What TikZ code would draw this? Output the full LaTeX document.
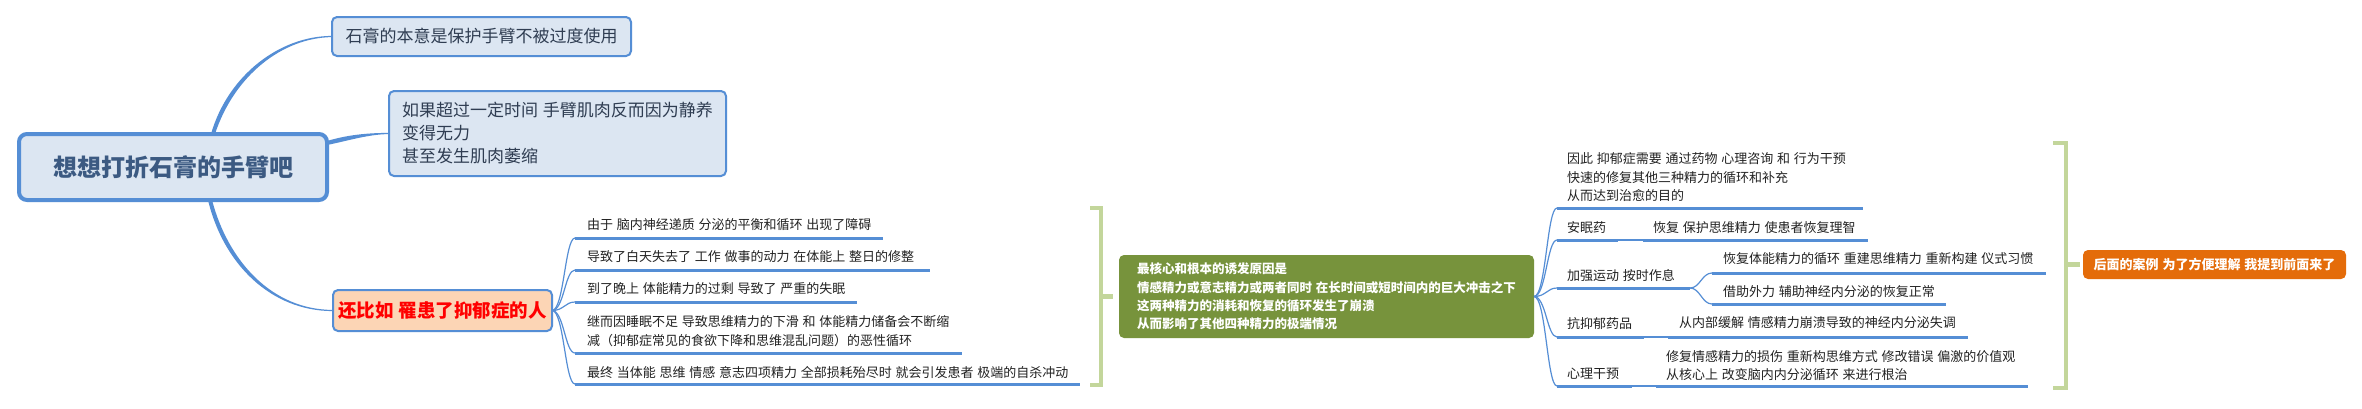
\documentclass[tikz,border=0pt]{standalone}
\usepackage{fontspec}
\setmainfont{Noto Sans CJK SC}[WordSpace=1.3]
\usetikzlibrary{calc,backgrounds}
\definecolor{lineblue}{HTML}{558ED5}
\definecolor{boxfill}{HTML}{DCE6F2}
\definecolor{maintxt}{HTML}{3C5A82}
\definecolor{toptxt}{HTML}{2F3D52}
\definecolor{peachfill}{HTML}{FCD5B5}
\definecolor{olivebg}{HTML}{77933C}
\definecolor{orangebg}{HTML}{E46C0A}
\definecolor{bracegreen}{HTML}{C3D69B}
\definecolor{subtxt}{HTML}{222222}
\begin{document}
\begin{tikzpicture}[x=1pt,y=-1pt,
  every node/.style={inner sep=0pt, outer sep=0pt},
  mainbox/.style={draw=lineblue, line width=4pt, fill=boxfill, rounded corners=8pt,
    minimum width=308pt, minimum height=66pt,
    font=\fontsize{24}{28}\selectfont\bfseries, text=maintxt},
  topicbox/.style={draw=lineblue, line width=2pt, fill=boxfill, rounded corners=5pt,
    font=\fontsize{17}{23}\selectfont, text=toptxt, align=left},
  peachbox/.style={draw=lineblue, line width=2pt, fill=peachfill, rounded corners=5pt,
    minimum width=219pt, minimum height=41pt,
    font=\fontsize{18.5}{22}\selectfont\bfseries, text=red},
  greenbox/.style={fill=olivebg, rounded corners=5pt, minimum width=415pt, minimum height=83pt,
    font=\fontsize{12.5}{18.3}\selectfont\bfseries, text=white, align=left},
  orangebox/.style={fill=orangebg, rounded corners=5pt, minimum width=263pt, minimum height=29pt,
    font=\fontsize{13}{16}\selectfont\bfseries, text=white},
  sub/.style={anchor=north west, font=\fontsize{13}{18.4}\selectfont, text=subtxt, align=left},
  uline/.style={draw=lineblue, line width=3pt},
  thinline/.style={draw=lineblue, line width=1.2pt},
  taper/.style={fill=lineblue},
  bracket/.style={draw=bracegreen, line width=4.5pt}
]
\useasboundingbox (0,0) rectangle (2362,408);

% ---- boxes
\node[mainbox] (main) at (173,167) {想想打折石膏的手臂吧};
\node[topicbox, minimum width=299pt, minimum height=39pt] (top1) at (481.5,36.5) {石膏的本意是保护手臂不被过度使用};
\node[topicbox, minimum width=337pt, minimum height=85pt] (top2) at (557.5,133.5) {如果超过一定时间 手臂肌肉反而因为静养\\变得无力\\甚至发生肌肉萎缩};
\node[peachbox] (peach) at (442.5,310.5) {还比如 罹患了抑郁症的人};
\node[greenbox] (core) at (1326.5,296.5) {最核心和根本的诱发原因是\\情感精力或意志精力或两者同时 在长时间或短时间内的巨大冲击之下\\这两种精力的消耗和恢复的循环发生了崩溃\\从而影响了其他四种精力的极端情况};
\node[orangebox] (note) at (2214.5,264.5) {后面的案例 为了方便理解 我提到前面来了};

% ---- left-middle branches
\node[sub] (ta) at (587,219) {由于 脑内神经递质 分泌的平衡和循环 出现了障碍};
\coordinate (ua1) at (575,238); \coordinate (ua2) at (883,238);
\node[sub] (tb) at (587,251) {导致了白天失去了 工作 做事的动力 在体能上 整日的修整};
\coordinate (ub1) at (575,270); \coordinate (ub2) at (930,270);
\node[sub] (tc) at (587,283) {到了晚上 体能精力的过剩 导致了 严重的失眠};
\coordinate (uc1) at (575,302); \coordinate (uc2) at (857,302);
\node[sub] (td) at (587,316) {继而因睡眠不足 导致思维精力的下滑 和 体能精力储备会不断缩\\减（抑郁症常见的食欲下降和思维混乱问题）的恶性循环};
\coordinate (ud1) at (575,353); \coordinate (ud2) at (962,353);
\node[sub] (te) at (587,366) {最终 当体能 思维 情感 意志四项精力 全部损耗殆尽时 就会引发患者 极端的自杀冲动};
\coordinate (ue1) at (575,384); \coordinate (ue2) at (1080,384);
\foreach \k in {a,b,c,d,e} {\draw[uline] (u\k1) -- (u\k2);}

% ---- right branches
\node[sub] (r1) at (1567,153) {因此 抑郁症需要 通过药物 心理咨询 和 行为干预\\快速的修复其他三种精力的循环和补充\\从而达到治愈的目的};
\coordinate (ur11) at (1557,208); \coordinate (ur12) at (1863,208);
\node[sub] (r2) at (1567,222) {安眠药};
\coordinate (ur21) at (1557,240); \coordinate (ur22) at (1618,240);
\node[sub] (r2c) at (1653,222) {恢复 保护思维精力 使患者恢复理智};
\coordinate (uc21) at (1643,240); \coordinate (uc22) at (1868,240);
\node[sub] (r3) at (1567,269) {加强运动 按时作息};
\coordinate (ur31) at (1557,288); \coordinate (ur32) at (1690,288);
\node[sub] (r3a) at (1723,253) {恢复体能精力的循环 重建思维精力 重新构建 仪式习惯};
\coordinate (uc31) at (1712,273); \coordinate (uc32) at (2046,273);
\node[sub] (r3b) at (1723,286) {借助外力 辅助神经内分泌的恢复正常};
\coordinate (uc41) at (1712,304); \coordinate (uc42) at (1946,304);
\node[sub] (r4) at (1567,317) {抗抑郁药品};
\coordinate (ur41) at (1557,337); \coordinate (ur42) at (1644,337);
\node[sub] (r4c) at (1679,317) {从内部缓解 情感精力崩溃导致的神经内分泌失调};
\coordinate (uc51) at (1668,337); \coordinate (uc52) at (1968,337);
\node[sub] (r5) at (1567,368) {心理干预};
\coordinate (ur51) at (1557,386); \coordinate (ur52) at (1632,386);
\node[sub] (r5c) at (1666,350) {修复情感精力的损伤 重新构思维方式 修改错误 偏激的价值观\\从核心上 改变脑内内分泌循环 来进行根治};
\coordinate (uc61) at (1656,386); \coordinate (uc62) at (2028,386);
\foreach \k in {1,2,3,4,5} {\draw[uline] (ur\k1) -- (ur\k2);}
\foreach \k in {2,3,4,5,6} {\draw[uline] (uc\k1) -- (uc\k2);}

% ---- thin connectors
\foreach \k in {a,b,c,d,e} {
  \draw[thinline] (peach.east) .. controls +(12,0) and +(-10,0) .. (u\k1);}
\foreach \k in {1,2,3,4,5} {
  \draw[thinline] (core.east) .. controls +(12,0) and +(-10,0) .. (ur\k1);}
\draw[thinline] (ur32) .. controls +(10,0) and +(-10,0) .. (uc31);
\draw[thinline] (ur32) .. controls +(10,0) and +(-10,0) .. (uc41);
\draw[thinline] (ur22) -- (uc21);
\draw[thinline] (ur42) -- (uc51);
\draw[thinline] (ur52) -- (uc61);

% ---- brackets
\draw[bracket] (1090,208) -- (1101,208) -- (1101,385) -- (1090,385);
\draw[bracket] (1101,296.5) -- ($(core.west)+(-6,0)$);
\draw[bracket] (2053,143) -- (2066,143) -- (2066,388) -- (2053,388);
\draw[bracket] (2066,264.5) -- ($(note.west)+(-3,0)$);

% ---- tapered main connectors
\begin{scope}[on background layer]
\fill[white] (0,0) rectangle (2362,408);
\coordinate (t0) at ($(main.north)+(40,0)$);
\fill[taper] ($(t0)+(-2,0)$) .. controls +(17,-59) and +(-52,0) .. ($(top1.west)+(0,-0.6)$)
  -- ($(top1.west)+(0,0.6)$) .. controls +(-50,0.6) and +(19,-58) .. ($(t0)+(2,0)$) -- cycle;
\coordinate (m0) at ($(main.east)+(0,-24)$);
\fill[taper] ($(m0)+(0,-2)$) .. controls +(20,-6) and +(-22,0) .. ($(top2.west)+(0,-0.6)$)
  -- ($(top2.west)+(0,0.6)$) .. controls +(-20,0) and +(20,-4) .. ($(m0)+(0,2)$) -- cycle;
\coordinate (b0) at ($(main.south)+(37,0)$);
\fill[taper] ($(b0)+(-2,0)$) .. controls +(15,63) and +(-63,0) .. ($(peach.west)+(0,0.6)$)
  -- ($(peach.west)+(0,-0.6)$) .. controls +(-61,0) and +(16,61) .. ($(b0)+(2,0)$) -- cycle;
\end{scope}
\end{tikzpicture}
\end{document}
